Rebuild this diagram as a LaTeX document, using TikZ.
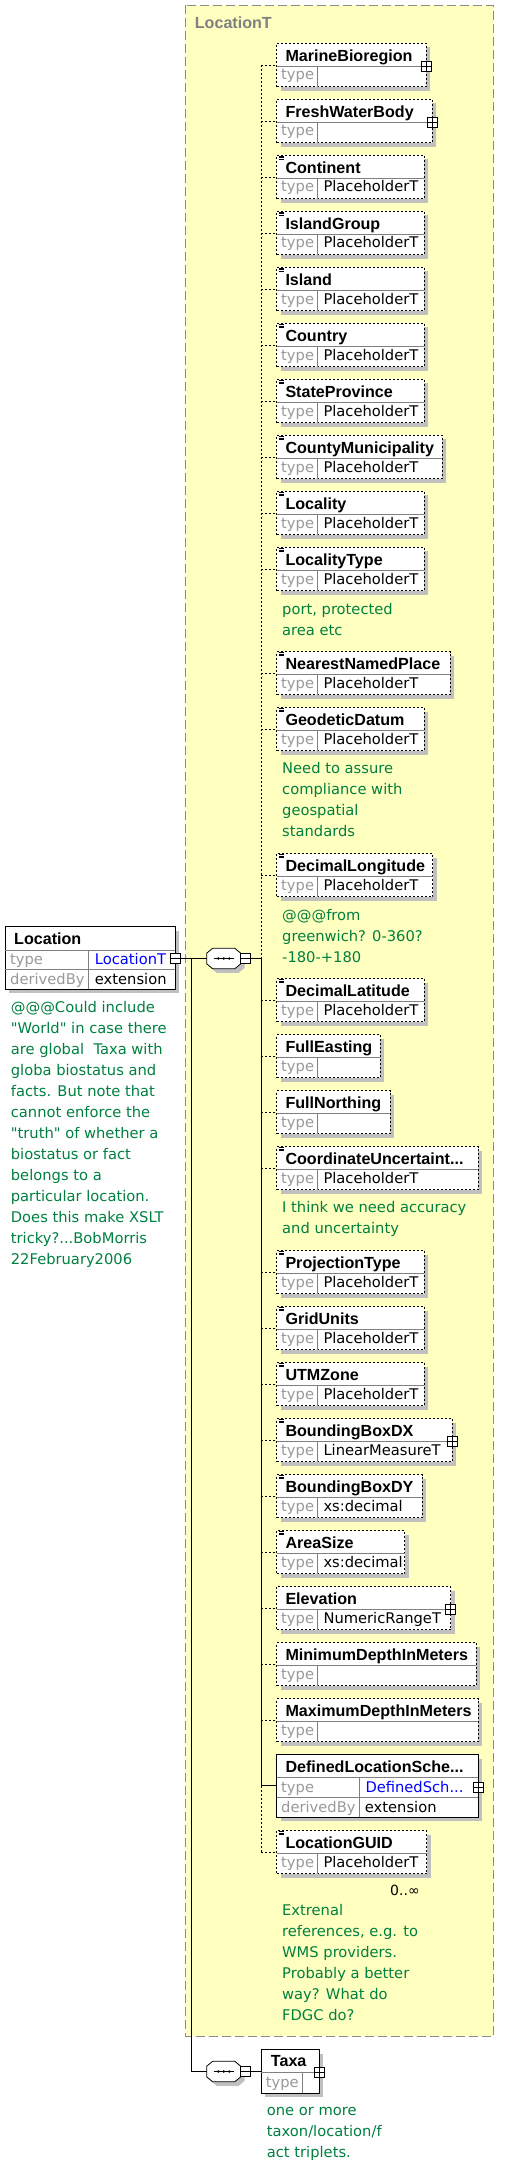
\documentclass[tikz,border=0pt]{standalone}
\usepackage{fontspec}
\newfontfamily\regfont{DejaVu Sans}
\newfontfamily\namefont{Liberation Sans}
\usetikzlibrary{shadows}
\definecolor{grpfill}{HTML}{FFFFC0}
\definecolor{grpline}{HTML}{8C8C8C}
\definecolor{cmtgreen}{HTML}{008040}
\definecolor{typegray}{HTML}{999999}
\definecolor{shadegray}{HTML}{C0C0C0}
\definecolor{rowgray}{HTML}{808080}
\definecolor{linkblue}{HTML}{0000FF}
\tikzset{
  elbox/.style={rectangle, draw=black, fill=white, line width=0.9pt, inner sep=0, outer sep=0, anchor=north west,
     drop shadow={shadow xshift=4pt, shadow yshift=-4pt, fill=shadegray, opacity=1}},
  optbox/.style={elbox, dash pattern=on 2pt off 2pt},
  rowline/.style={draw=rowgray, line width=0.8pt},
  nm/.style={inner sep=0, anchor=base west, font=\namefont\bfseries\fontsize{16.1}{19}\selectfont},
  ty/.style={inner sep=0, anchor=base west, text=typegray, font=\regfont\fontsize{14.7}{18}\selectfont},
  val/.style={inner sep=0, anchor=base west, font=\regfont\fontsize{14.7}{18}\selectfont},
  cmt/.style={inner sep=0, anchor=north west, align=left, text=cmtgreen, font=\regfont\fontsize{14.7}{21}\selectfont},
  pm/.style={rectangle, draw=black, fill=white, line width=0.7pt, minimum size=10pt, inner sep=0},
  dashline/.style={draw=black, line width=0.8pt, dash pattern=on 2pt off 2pt},
  solidline/.style={draw=black, line width=0.9pt},
  grp/.style={draw=grpline, fill=grpfill, line width=1pt, dash pattern=on 9pt off 4pt},
  grplabel/.style={inner sep=0, anchor=base west, text=rowgray, font=\namefont\bfseries\fontsize{16.1}{19}\selectfont},
  seqbox/.style={inner sep=0, minimum width=34pt, minimum height=20.6pt}
}
\newcommand\xelem[5]{%
  \node[optbox, minimum width={#3-276.7}, minimum height=43.4] (#1) at (276.7,#2) {};
  \draw[rowline] (276.7,{#2+22.7}) -- (#3,{#2+22.7}) (317.3,{#2+22.7}) -- (317.3,{#2+43.4});
  \node[nm] (#1-n) at (285.3,{#2+18.4}) {#4};
  \node[ty] (#1-t) at (281,{#2+36.7}) {type};
  \node[val] (#1-v) at (323.3,{#2+36.7}) {#5};
  \coordinate (#1-b) at (261.3,{#2+21.7});
  \draw[dashline] (#1-b) -- (#1.west);
}
\newcommand\xdoc[1]{\draw[line width=0.6pt] (278.7,{#1+1}) -- (283.5,{#1+1}) (278.7,{#1+2.5}) -- (283.5,{#1+2.5}) (278.7,{#1+4}) -- (283.5,{#1+4});}
\newcommand\xplus[3]{\node[pm] (#1) at (#2,#3) {}; \draw[line width=0.7pt] (#1.north) -- (#1.south) (#1.west) -- (#1.east);}
\newcommand\xminus[3]{\node[pm] (#1) at (#2,#3) {}; \draw[line width=0.7pt] (#1.west) -- (#1.east);}
\newcommand\xseq[3]{%
  \begin{scope}[shift={({#2+4},{#3+4})}]
    \fill[shadegray] (-11,-10.3) -- (11,-10.3) -- (17,-5.3) -- (17,5.3) -- (11,10.3) -- (-11,10.3) -- (-17,5.3) -- (-17,-5.3) -- cycle;
  \end{scope}
  \begin{scope}[shift={(#2,#3)}]
    \draw[fill=white, line width=0.8pt] (-11,-10.3) -- (11,-10.3) -- (17,-5.3) -- (17,5.3) -- (11,10.3) -- (-11,10.3) -- (-17,5.3) -- (-17,-5.3) -- cycle;
  \end{scope}
  \node[seqbox] (#1) at (#2,#3) {};
  \draw[line width=0.8pt] ([xshift=-10pt]#1.center) -- ([xshift=10pt]#1.center);
  \fill ([xshift=-5.5pt]#1.center) circle (1.4pt) (#1.center) circle (1.4pt) ([xshift=5.5pt]#1.center) circle (1.4pt);
}
\begin{document}
\begin{tikzpicture}[x=1pt,y=-1pt]
\useasboundingbox (0,0) rectangle (512,2167);
% group box
\draw[grp] (185.3,5.3) rectangle (493.3,2036);
\node[grplabel] (grp-l) at (194.7,29) {LocationT};
% elements
\xelem{mb}{43.3}{426}{MarineBioregion}{}
\xplus{mb-p}{426}{66}
\xelem{fw}{99.3}{432}{FreshWaterBody}{}
\xplus{fw-p}{432}{122}
\xelem{co}{155.3}{424}{Continent}{PlaceholderT}\xdoc{155.3}
\xelem{ig}{211.3}{424}{IslandGroup}{PlaceholderT}\xdoc{211.3}
\xelem{is}{267.3}{424}{Island}{PlaceholderT}\xdoc{267.3}
\xelem{cy}{323.3}{424}{Country}{PlaceholderT}\xdoc{323.3}
\xelem{sp}{379.3}{424}{StateProvince}{PlaceholderT}\xdoc{379.3}
\xelem{cm}{435.3}{442}{CountyMunicipality}{PlaceholderT}\xdoc{435.3}
\xelem{lo}{491.3}{424}{Locality}{PlaceholderT}\xdoc{491.3}
\xelem{lt}{547.3}{424}{LocalityType}{PlaceholderT}\xdoc{547.3}
\node[cmt] (lt-c) at (282,599.5) {\strut port, protected\\area etc};
\xelem{nn}{651.5}{450}{NearestNamedPlace}{PlaceholderT}\xdoc{651.5}
\xelem{gd}{707.5}{424}{GeodeticDatum}{PlaceholderT}\xdoc{707.5}
\node[cmt] (gd-c) at (282,758.9) {\strut Need to assure\\compliance with\\geospatial\\standards};
\xelem{dlo}{853.5}{432.7}{DecimalLongitude}{PlaceholderT}\xdoc{853.5}
\node[cmt] (dlo-c) at (282,905.5) {\strut @@@from\\greenwich? 0-360?\\-180-+180};
\xelem{dla}{978.5}{424}{DecimalLatitude}{PlaceholderT}\xdoc{978.5}
\xelem{fe}{1034.5}{380}{FullEasting}{}
\xelem{fn}{1090.5}{390}{FullNorthing}{}
\xelem{cu}{1146.5}{478}{CoordinateUncertaint...}{PlaceholderT}\xdoc{1146.5}
\node[cmt] (cu-c) at (282,1197.6) {\strut I think we need accuracy\\and uncertainty};
\xelem{pt}{1250.5}{424}{ProjectionType}{PlaceholderT}\xdoc{1250.5}
\xelem{gu}{1306.5}{424}{GridUnits}{PlaceholderT}\xdoc{1306.5}
\xelem{ut}{1362.5}{424}{UTMZone}{PlaceholderT}\xdoc{1362.5}
\xelem{bx}{1418.5}{452}{BoundingBoxDX}{LinearMeasureT}\xdoc{1418.5}
\xplus{bx-p}{452}{1441.2}
\xelem{by}{1474.5}{422}{BoundingBoxDY}{xs:decimal}\xdoc{1474.5}
\xelem{as}{1530.5}{404.7}{AreaSize}{xs:decimal}\xdoc{1530.5}
\xelem{el}{1586.5}{450.7}{Elevation}{NumericRangeT}
\xplus{el-p}{450.7}{1609.2}
\xelem{mn}{1642.5}{476}{MinimumDepthInMeters}{}
\xelem{mx}{1698.5}{478}{MaximumDepthInMeters}{}
% DefinedLocationScheme (mandatory, 3 rows)
\node[elbox, minimum width=201.3, minimum height=62.6] (dl) at (276.7,1754.5) {};
\draw[rowline] (276.7,1777.2) -- (478,1777.2) (276.7,1797.4) -- (478,1797.4) (359.3,1777.2) -- (359.3,1817.1);
\node[nm] (dl-n) at (285.3,1772.9) {DefinedLocationSche...};
\node[ty] (dl-t) at (281,1792.3) {type};
\node[val, text=linkblue] (dl-v) at (365.3,1792.3) {DefinedSch...};
\node[ty] (dl-d) at (281,1812.3) {derivedBy};
\node[val] (dl-e) at (364.7,1812.3) {extension};
\coordinate (dl-b) at (261.3,1785.8);
\draw[solidline] (dl-b) -- (dl.west);
\xplus{dl-p}{478}{1787.3}
\xelem{lg}{1830.5}{426.7}{LocationGUID}{PlaceholderT}\xdoc{1830.5}
\node[val, font=\regfont\fontsize{14}{17}\selectfont] (lg-o) at (390,1895) {0..∞};
\node[cmt] (lg-c) at (282,1901) {\strut Extrenal\\references, e.g. to\\WMS providers.\\Probably a better\\way? What do\\FDGC do?};
% sequence compositor inside group
\xseq{s1}{223.7}{958.5}
\xminus{s1-m}{245.7}{958.5}
\coordinate (busmid) at (261.3,958.5);
\draw[solidline] (s1-m.east) -- (busmid);
% bus
\draw[dashline] (mb-b) -- (busmid);
\draw[solidline] (busmid) -- (dl-b);
\draw[dashline] (dl-b) -- (lg-b);
% Location element
\node[elbox, minimum width=170, minimum height=62.6] (loc) at (5.3,926.7) {};
\draw[rowline] (5.3,950) -- (175.3,950) (5.3,969.3) -- (175.3,969.3) (88.7,950) -- (88.7,989.3);
\node[nm] (loc-n) at (14,944) {Location};
\node[ty] (loc-t) at (10,964.5) {type};
\node[val, text=linkblue] (loc-v) at (94.7,964.5) {LocationT};
\node[ty] (loc-d) at (10,984.7) {derivedBy};
\node[val] (loc-e) at (94.7,984.7) {extension};
\xminus{loc-m}{175.7}{958.5}
\node[cmt] (loc-c) at (10.7,997.6) {\strut @@@Could include\\"World" in case there\\are global~ Taxa with\\globa biostatus and\\facts. But note that\\cannot enforce the\\"truth" of whether a\\biostatus or fact\\belongs to a\\particular location.\\Does this make XSLT\\tricky?...BobMorris\\22February2006};
\draw[solidline] (loc-m.east) -- (s1.west);
% Taxa branch
\coordinate (j1) at (191.3,958.5);
\coordinate (j2) at (191.3,2071.5);
\xseq{s2}{223.7}{2071.5}
\xminus{s2-m}{245.7}{2071.5}
\draw[solidline] (j1) -- (j2) -- (s2.west);
\node[elbox, minimum width=58, minimum height=43.4] (tx) at (261.3,2049.8) {};
\draw[rowline] (261.3,2072.3) -- (319.3,2072.3) (302.3,2072.3) -- (302.3,2093.2);
\node[nm] (tx-n) at (270.7,2066.7) {Taxa};
\node[ty] (tx-t) at (265.7,2087.7) {type};
\xplus{tx-p}{319.3}{2072.3}
\draw[solidline] (s2-m.east) -- (tx.west);
\node[cmt] (tx-c) at (266.7,2100.6) {\strut one or more\\taxon/location/f\\act triplets.};
\end{tikzpicture}
\end{document}
